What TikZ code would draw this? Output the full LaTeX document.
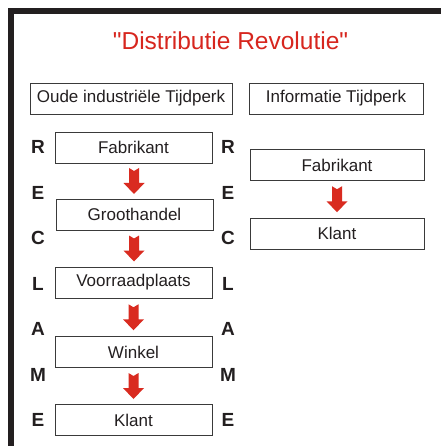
\documentclass[tikz,border=0pt]{standalone}
\usepackage{fontspec}
\setmainfont{Liberation Sans}[Ligatures=TeXOff]
\usetikzlibrary{calc}
\definecolor{ink}{HTML}{231F20}
\definecolor{framecol}{HTML}{231F20}
\definecolor{boxline}{HTML}{3A3A3A}
\definecolor{titlered}{HTML}{D7261E}
\definecolor{arrowred}{HTML}{D92B20}
\tikzset{
  x=1pt, y=-1pt,
  stage/.style={draw=boxline, line width=0.9pt, inner sep=0pt,
    minimum height=31pt, text=ink, font=\fontsize{17}{20}\selectfont},
  leftstage/.style={stage, minimum width=157pt},
  rightstage/.style={stage, minimum width=174pt},
  era/.style={stage},
  letter/.style={text=ink, inner sep=0pt, font=\fontsize{19}{22}\selectfont\bfseries},
  flow/.pic={
    \fill[arrowred] (-5,-13) -- (0,-10) -- (5,-13) -- (5,2) -- (10.5,2)
      -- (0,13) -- (-10.5,2) -- (-5,2) -- cycle;
  }
}
\begin{document}
\begin{tikzpicture}
\useasboundingbox (0,0) rectangle (440,446);
\fill[white] (0,0) rectangle (440,446);
% frame along the top and left edge
\draw[framecol, line width=5.5pt, line cap=rect] (11,450) -- (11,11) -- (444,11);

% title
\node[text=titlered, anchor=base, inner sep=0pt, font=\fontsize{24.5}{28}\selectfont]
  (title) at (230.5,49.5) {"Distributie Revolutie"};

% era headers
\node[era, minimum width=202pt] (oldera) at (131,98.5) {Oude industriële Tijdperk};
\node[era, minimum width=174pt] (newera) at (336,98.5) {Informatie Tijdperk};

% old chain
\node[leftstage] (l1) at (133.5,147.5) {Fabrikant};
\node[leftstage] (l2) at (134.5,214.5) {Groothandel};
\node[leftstage] (l3) at (133.5,282.5) {Voorraadplaats};
\node[leftstage] (l4) at (133.5,352) {Winkel};
\node[leftstage] (l5) at (133.5,420) {Klant};

% new chain
\node[rightstage] (r1) at (337,165) {Fabrikant};
\node[rightstage] (r2) at (337,233.5) {Klant};

% arrows between stages
\foreach \a/\b in {l1/l2, l2/l3, l3/l4, l4/l5, r1/r2}
  \pic at ($(\a.south)!0.5!(\b.north)$) {flow};

% RECLAME columns
\foreach \ch [count=\i from 0] in {R,E,C,L,A,M,E} {
  \node[letter] (la\i) at (38,147+45.5*\i) {\ch};
  \node[letter] (lb\i) at (228,147+45.5*\i) {\ch};
}
\end{tikzpicture}
\end{document}
